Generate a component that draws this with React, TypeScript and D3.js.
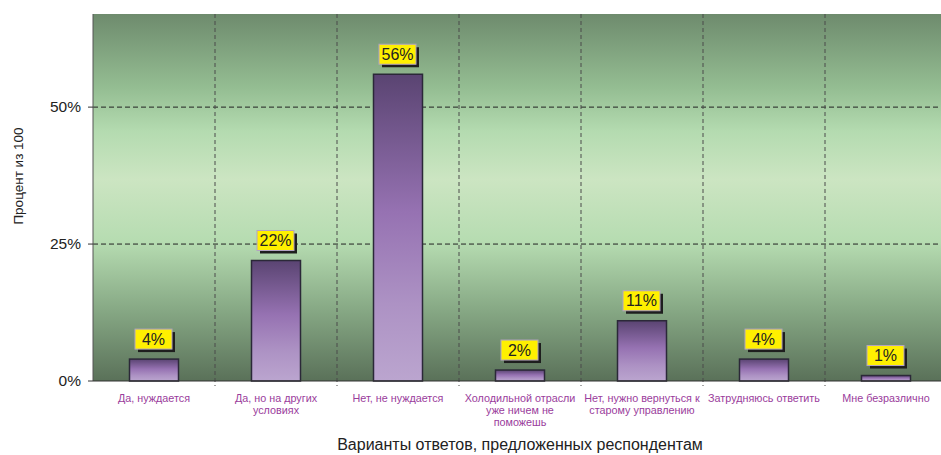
import React from 'react';
import * as d3 from 'd3';

// подписи категорий (перенос строк через \n)
const categories: string[] = [
    'Да, нуждается',
    'Да, но на других\nусловиях',
    'Нет, не нуждается',
    'Холодильной отрасли\nуже ничем не\nпоможешь',
    'Нет, нужно вернуться к\nстарому управлению',
    'Затрудняюсь ответить',
    'Мне безразлично',
];
const values: number[] = [0.04, 0.22, 0.56, 0.02, 0.11, 0.04, 0.01];
const yTicks: number[] = [0, 0.25, 0.5];
const yTitle = 'Процент из 100';
const xTitle = 'Варианты ответов, предложенных респондентам';

const W = 941;
const H = 455;
const margin = { top: 14, left: 93, bottom: 74 };
const bandW = 122;
const plotW = bandW * categories.length;
const plotBottom = H - margin.bottom;
const font = '"Liberation Sans", Arial, sans-serif';

const App: React.FC = () => {
    const x = d3
        .scaleBand<string>()
        .domain(categories)
        .range([margin.left, margin.left + plotW])
        .paddingInner(0)
        .paddingOuter(0);
    const y = d3.scaleLinear().domain([0, 0.67]).range([plotBottom, margin.top]);
    const barW = 49;
    const fmt = d3.format('.0%');
    const bounds = categories.slice(1).map((c) => x(c)!);

    return (
        <svg width={W} height={H} style={{ position: 'absolute', left: 0, top: 0 }} fontFamily={font}>
            <defs>
                <linearGradient id="bg" x1="0" y1="0" x2="0" y2="1">
                    <stop offset="0" stopColor="#6e8b6d" />
                    <stop offset="0.2" stopColor="#94bd92" />
                    <stop offset="0.32" stopColor="#b4dbb0" />
                    <stop offset="0.45" stopColor="#cce5c2" />
                    <stop offset="0.62" stopColor="#b6dcb1" />
                    <stop offset="0.8" stopColor="#88aa86" />
                    <stop offset="1" stopColor="#5a7159" />
                </linearGradient>
                <linearGradient id="bar" x1="0" y1="0" x2="0" y2="1">
                    <stop offset="0" stopColor="#5a4472" />
                    <stop offset="0.45" stopColor="#9672b2" />
                    <stop offset="0.75" stopColor="#ad92c4" />
                    <stop offset="1" stopColor="#bba5cf" />
                </linearGradient>
            </defs>

            <rect x={margin.left} y={margin.top} width={plotW} height={plotBottom - margin.top} fill="url(#bg)" />

            {yTicks.slice(1).map((t) => (
                <line key={t} x1={margin.left} x2={margin.left + plotW} y1={y(t)} y2={y(t)} stroke="#222" strokeDasharray="5,3" />
            ))}
            {bounds.map((bx) => (
                <line key={bx} x1={bx} x2={bx} y1={margin.top} y2={plotBottom + 5} stroke="#4a4a4a" strokeDasharray="4,3" />
            ))}

            {categories.map((c, i) => {
                const cx = x(c)! + x.bandwidth() / 2;
                const top = y(values[i]);
                return (
                    <g key={c}>
                        <rect
                            x={cx - barW / 2}
                            y={top}
                            width={barW}
                            height={plotBottom - top}
                            fill="url(#bar)"
                            stroke="#2b2838"
                            strokeWidth={1.5}
                        />
                        <rect x={cx - 19 + 3} y={top - 30 + 3} width={37} height={20} fill="#1e1e1e" />
                        <rect x={cx - 19} y={top - 30} width={37} height={20} fill="#fff000" stroke="#b3a3c3" />
                        <text x={cx - 0.5} y={top - 14.5} textAnchor="middle" fontSize={16} fill="#222">
                            {fmt(values[i])}
                        </text>
                    </g>
                );
            })}

            <line x1={margin.left} x2={margin.left} y1={margin.top} y2={plotBottom} stroke="#555" />
            <line x1={margin.left} x2={margin.left + plotW} y1={plotBottom} y2={plotBottom} stroke="#333" strokeWidth={1.2} />
            {yTicks.map((t) => (
                <g key={t}>
                    <line x1={margin.left - 5} x2={margin.left} y1={y(t)} y2={y(t)} stroke="#333" />
                    <text x={margin.left - 12} y={y(t) + 5} textAnchor="end" fontSize={15.5} fill="#222">
                        {fmt(t)}
                    </text>
                </g>
            ))}

            {categories.map((c) => (
                <text key={c} x={x(c)! + x.bandwidth() / 2} y={plotBottom + 21} textAnchor="middle" fontSize={10.8} fill="#9a3c9c">
                    {c.split('\n').map((line, k) => (
                        <tspan key={k} x={x(c)! + x.bandwidth() / 2} dy={k === 0 ? 0 : 12}>
                            {line}
                        </tspan>
                    ))}
                </text>
            ))}

            <text x={520} y={450} textAnchor="middle" fontSize={16} fill="#222">
                {xTitle}
            </text>
            <text transform={`translate(23,176) rotate(-90)`} textAnchor="middle" fontSize={13.5} fill="#222">
                {yTitle}
            </text>
        </svg>
    );
};

export default App;
